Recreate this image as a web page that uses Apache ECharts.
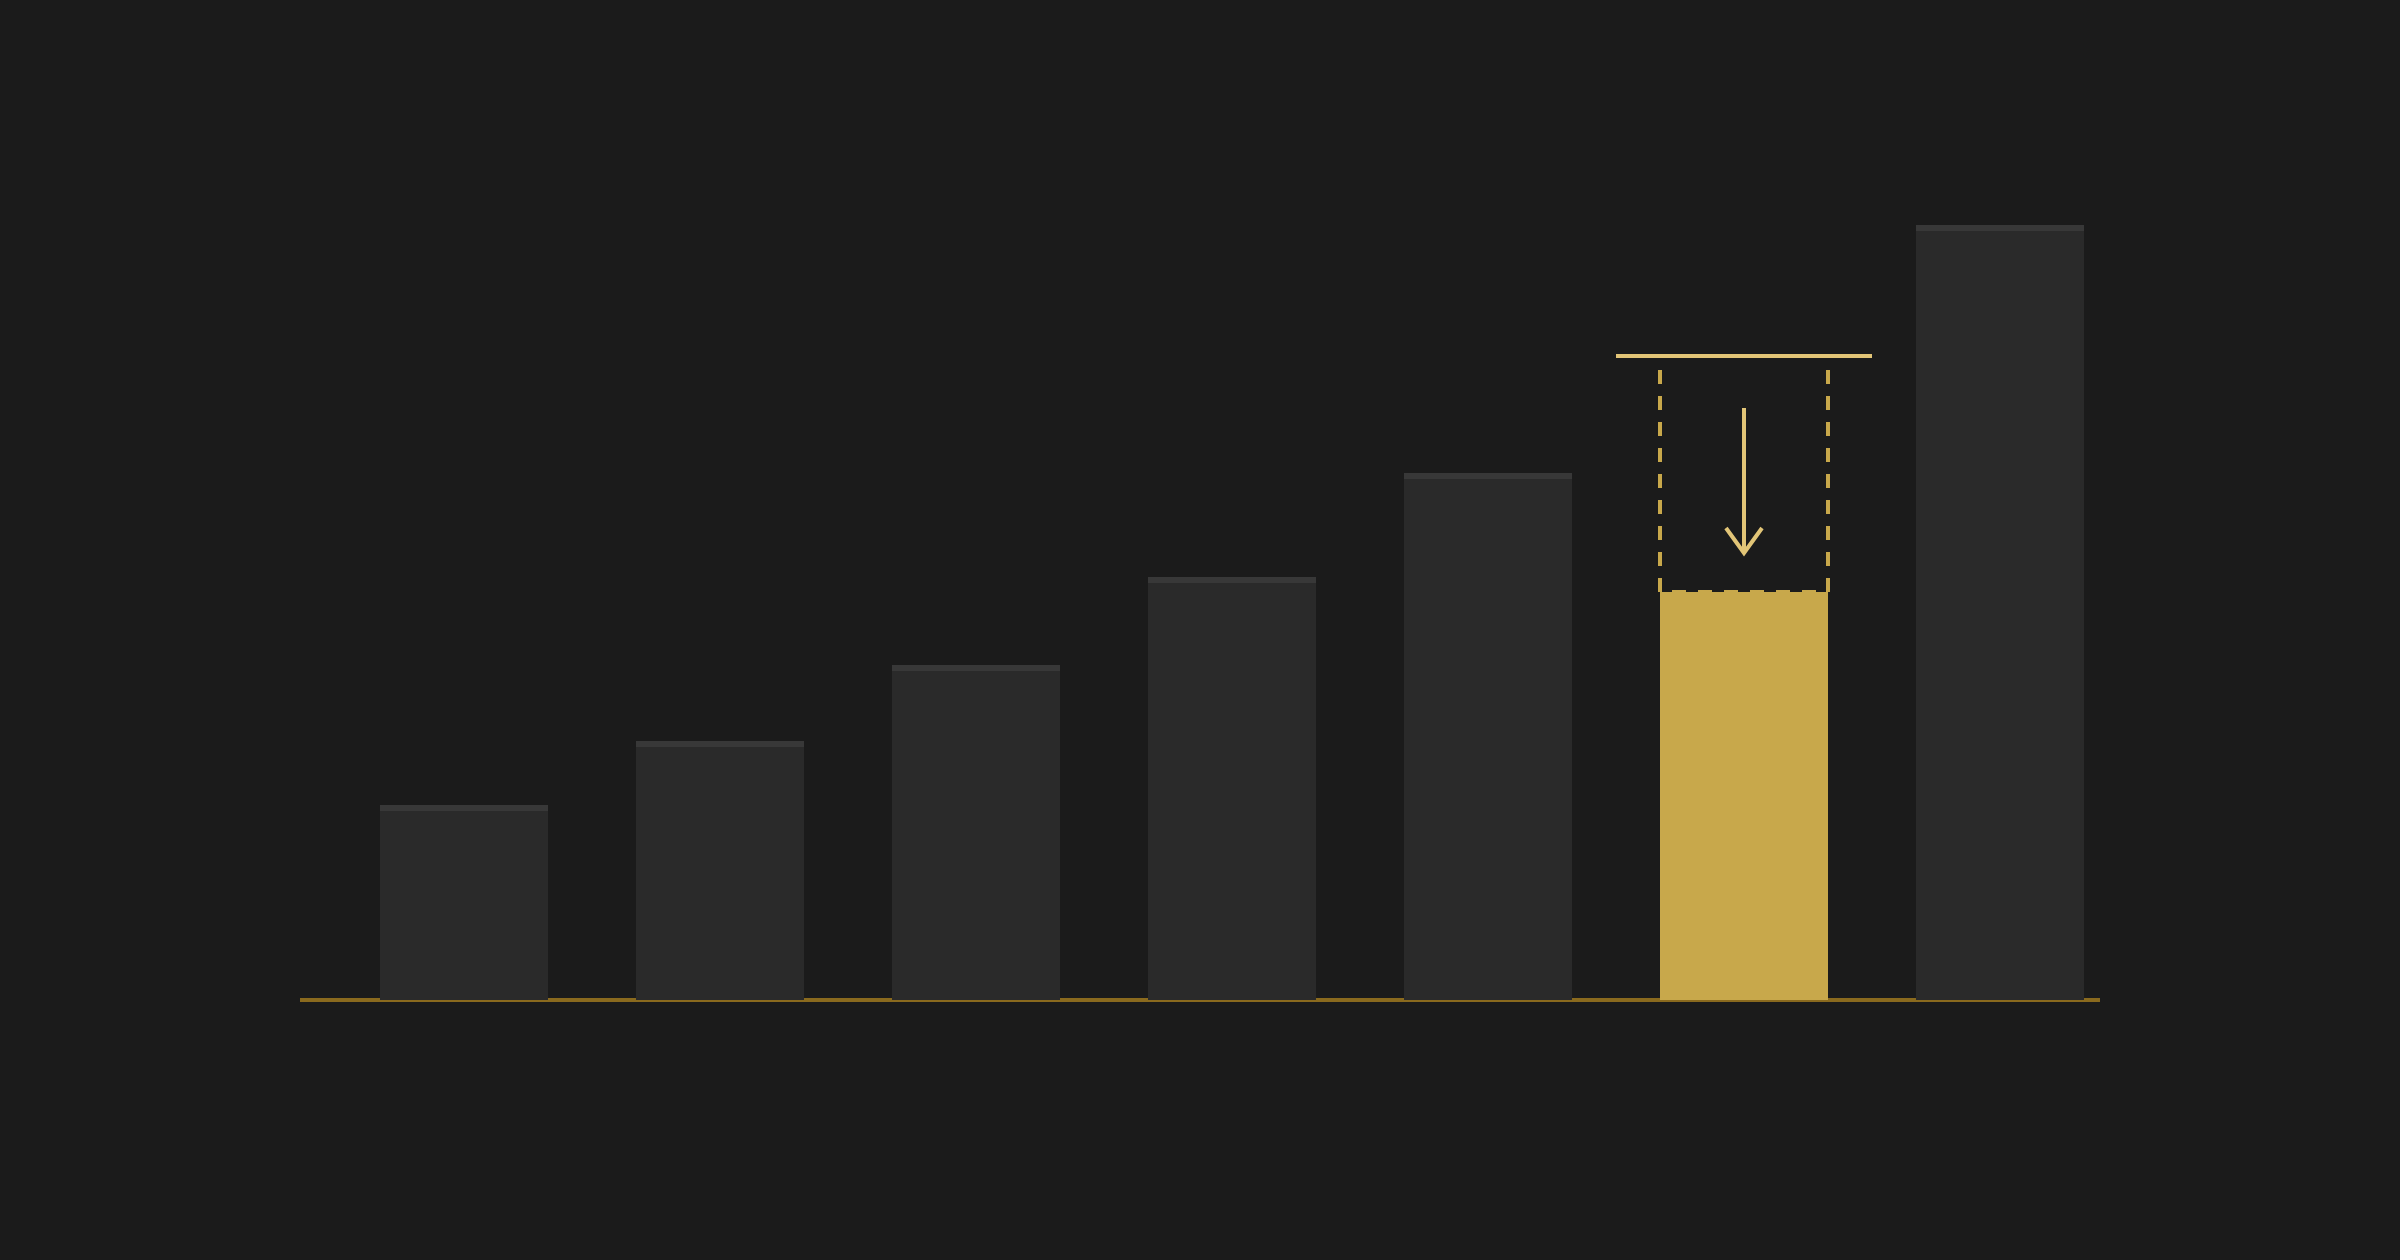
<!DOCTYPE html>
<html>
<head>
<meta charset="utf-8">
<title>bars</title>
<script src="https://cdn.jsdelivr.net/npm/echarts@6/dist/echarts.min.js"></script>
<style>
    html, body { margin: 0; padding: 0; background: #1b1b1b; }
    #chart { width: 2400px; height: 1260px; }
</style>
</head>
<body>
<div id="chart"></div>
<script>
// 数据
var categories = ['1', '2', '3', '4', '5', '6', '7'];
var values = [195, 259, 335, 423, 527, 408, 775];
var focusIndex = 5;      // 高亮的那一根
var previousValue = 644; // 高亮柱之前的值（虚线框顶部）

var chart = echarts.init(document.getElementById('chart'));

var barRatio = 168 / 256;

var option = {
    backgroundColor: '#1b1b1b',
    animation: false,
    grid: [
        {left: 336, right: 272, top: 200, bottom: 260},
        // 只用来画底部轴线
        {left: 300, right: 300, top: 200, bottom: 260}
    ],
    xAxis: [
        {
            type: 'category',
            gridIndex: 0,
            data: categories,
            axisLine: {show: false},
            axisTick: {show: false},
            axisLabel: {show: false},
            splitLine: {show: false}
        },
        {
            type: 'value',
            gridIndex: 1,
            min: 0,
            max: 1,
            axisLine: {show: true, lineStyle: {color: '#8a6a1e', width: 4, cap: 'butt'}},
            axisTick: {show: false},
            axisLabel: {show: false},
            splitLine: {show: false}
        }
    ],
    yAxis: [
        {type: 'value', gridIndex: 0, min: 0, max: 800, show: false},
        {type: 'value', gridIndex: 1, min: 0, max: 800, show: false}
    ],
    series: [
        {
            type: 'bar',
            xAxisIndex: 0,
            yAxisIndex: 0,
            barWidth: (barRatio * 100) + '%',
            data: values.map(function (v, i) {
                return {
                    value: v,
                    itemStyle: {color: i === focusIndex ? '#c8a84b' : '#2a2a2a'}
                };
            })
        },
        // 柱顶的浅色条
        {
            type: 'custom',
            xAxisIndex: 0,
            yAxisIndex: 0,
            z: 3,
            data: values.map(function (v, i) { return [i, v]; }),
            renderItem: function (params, api) {
                if (api.value(0) === focusIndex) return null;
                var top = api.coord([api.value(0), api.value(1)]);
                var bw = api.size([1, 0])[0] * barRatio;
                return {
                    type: 'rect',
                    shape: {x: top[0] - bw / 2, y: top[1], width: bw, height: 6},
                    style: {fill: '#383838'}
                };
            }
        },
        // 高亮柱的虚线框和箭头
        {
            type: 'custom',
            xAxisIndex: 0,
            yAxisIndex: 0,
            z: 4,
            data: [[focusIndex, values[focusIndex], previousValue]],
            renderItem: function (params, api) {
                var cur = api.coord([api.value(0), api.value(1)]);
                var prev = api.coord([api.value(0), api.value(2)]);
                var band = api.size([1, 0])[0];
                var bw = band * barRatio;
                var gold = '#e2c577';
                return {
                    type: 'group',
                    children: [
                        {
                            type: 'rect',
                            shape: {x: cur[0] - bw / 2, y: prev[1], width: bw, height: cur[1] - prev[1]},
                            style: {fill: 'none', stroke: '#c8a84b', lineWidth: 4, lineDash: [14, 12]}
                        },
                        {
                            type: 'line',
                            shape: {x1: cur[0] - band / 2, y1: prev[1], x2: cur[0] + band / 2, y2: prev[1]},
                            style: {stroke: gold, lineWidth: 4}
                        },
                        {
                            type: 'line',
                            shape: {x1: cur[0], y1: prev[1] + 52, x2: cur[0], y2: cur[1] - 40},
                            style: {stroke: gold, lineWidth: 4}
                        },
                        {
                            type: 'polyline',
                            shape: {points: [[cur[0] - 18, cur[1] - 64], [cur[0], cur[1] - 39], [cur[0] + 18, cur[1] - 64]]},
                            style: {fill: 'none', stroke: gold, lineWidth: 4}
                        }
                    ]
                };
            }
        }
    ]
};

chart.setOption(option);

window.addEventListener('resize', function () {
    chart.resize();
});
</script>
</body>
</html>
